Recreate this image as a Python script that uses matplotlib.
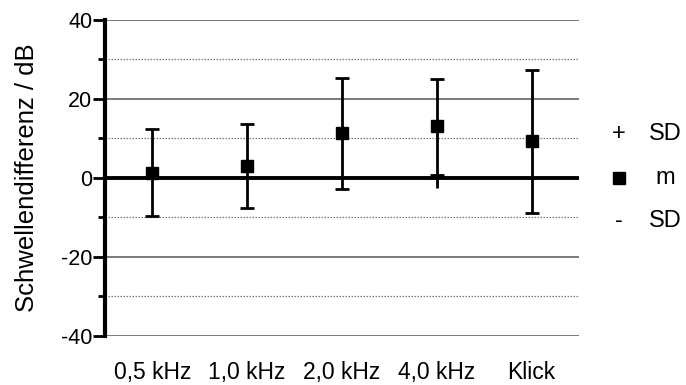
import matplotlib.pyplot as plt

plt.rcParams['font.family'] = ['Liberation Sans', 'DejaVu Sans']
plt.rcParams['axes.unicode_minus'] = False

# values
categories = ['0,5 kHz', '1,0 kHz', '2,0 kHz', '4,0 kHz', 'Klick']
means = [1.3, 2.9, 11.3, 13.0, 9.2]
upper = [12.4, 13.7, 25.3, 25.0, 27.3]
lower = [-9.6, -7.8, -2.8, 0.7, -8.9]
stem_bottom = [-9.6, -7.8, -2.8, -2.6, -8.9]

fig = plt.figure(figsize=(6.86, 3.85), dpi=100)
ax = fig.add_axes([0.153, 0.128, 0.691, 0.821])

xs = list(range(len(categories)))
ax.set_xlim(-0.5, len(categories) - 0.5)
ax.set_ylim(-40, 40)

# grid lines
for y in [-40, -20, 20, 40]:
    ax.axhline(y, color='#7a7a7a', lw=1.4, zorder=1)
for y in [-30, -10, 10, 30]:
    ax.axhline(y, color='#7a7a7a', lw=0.9, ls=(0, (1.2, 1.2)), zorder=1)
ax.axhline(0, color='black', lw=2.8, zorder=2)

# error bars
yerr = [[m - l for m, l in zip(means, lower)], [u - m for m, u in zip(means, upper)]]
ax.errorbar(xs, means, yerr=yerr, fmt='s', color='black', ms=9, lw=2,
            capsize=5, capthick=2, zorder=4)
ax.vlines(xs, stem_bottom, lower, color='black', lw=2, zorder=3)

for s in ['top', 'right', 'bottom']:
    ax.spines[s].set_visible(False)
ax.spines['left'].set_linewidth(3)

ax.set_yticks([-40, -20, 0, 20, 40])
ax.set_yticks([-30, -10, 10, 30], minor=True)
ax.tick_params(axis='y', which='major', length=9, width=2, labelsize=15.5, pad=0)
ax.tick_params(axis='y', which='minor', length=5, width=2)
ax.set_xticks(xs)
ax.set_xticklabels(categories)
ax.tick_params(axis='x', length=0, labelsize=16.5, pad=18)
ax.set_ylabel('Schwellendifferenz / dB', fontsize=18.5, labelpad=16)

# legend at the side
lx, tx = 4.92, 5.41
ax.text(lx, 11, '+', fontsize=17, ha='center', va='center', clip_on=False)
ax.text(tx, 11, 'SD', fontsize=17, ha='center', va='center', clip_on=False)
ax.plot([lx], [0], 's', color='black', ms=8, clip_on=False)
ax.text(tx, 0, 'm', fontsize=17, ha='center', va='center', clip_on=False)
ax.text(lx, -11, '-', fontsize=17, ha='center', va='center', clip_on=False)
ax.text(tx, -11, 'SD', fontsize=17, ha='center', va='center', clip_on=False)

fig.savefig('out.png', dpi=100)
